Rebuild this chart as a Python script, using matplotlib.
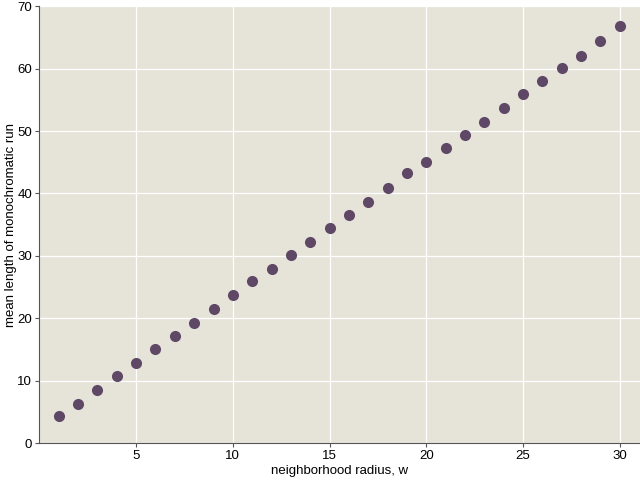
import matplotlib
matplotlib.use("Agg")
import matplotlib.pyplot as plt

plt.rcParams["font.family"] = ["Liberation Sans", "DejaVu Sans"]

radius = list(range(1, 31))
mean_run = [4.3, 6.3, 8.5, 10.7, 12.8, 15.0, 17.1, 19.3, 21.5, 23.7,
            25.9, 27.9, 30.2, 32.2, 34.4, 36.6, 38.7, 40.9, 43.2, 45.0,
            47.3, 49.3, 51.4, 53.7, 55.9, 58.0, 60.1, 62.1, 64.4, 66.9]

fig = plt.figure(figsize=(6.4, 4.8), dpi=100)
ax = fig.add_axes([0.061, 0.077, 0.939, 0.910])
ax.set_facecolor("#E6E3D9")
ax.grid(True, color="white", linewidth=0.9)
ax.set_axisbelow(True)
ax.plot(radius, mean_run, "o", color="#5E4866", markersize=8, markeredgewidth=0)
ax.set_xlim(-0.02, 31.05)
ax.set_ylim(0, 70)
ax.set_xticks([5, 10, 15, 20, 25, 30])
ax.set_yticks([0, 10, 20, 30, 40, 50, 60, 70])
for s in ["top", "right"]:
    ax.spines[s].set_visible(False)
for s in ["left", "bottom"]:
    ax.spines[s].set_color("#555555")
ax.tick_params(length=3, color="#555555", labelsize=9.5, pad=2)
ax.set_xlabel("neighborhood radius, w", fontsize=9.5, labelpad=2)
ax.set_ylabel("mean length of monochromatic run", fontsize=9.5, labelpad=0)
fig.savefig("out.png", dpi=100)
